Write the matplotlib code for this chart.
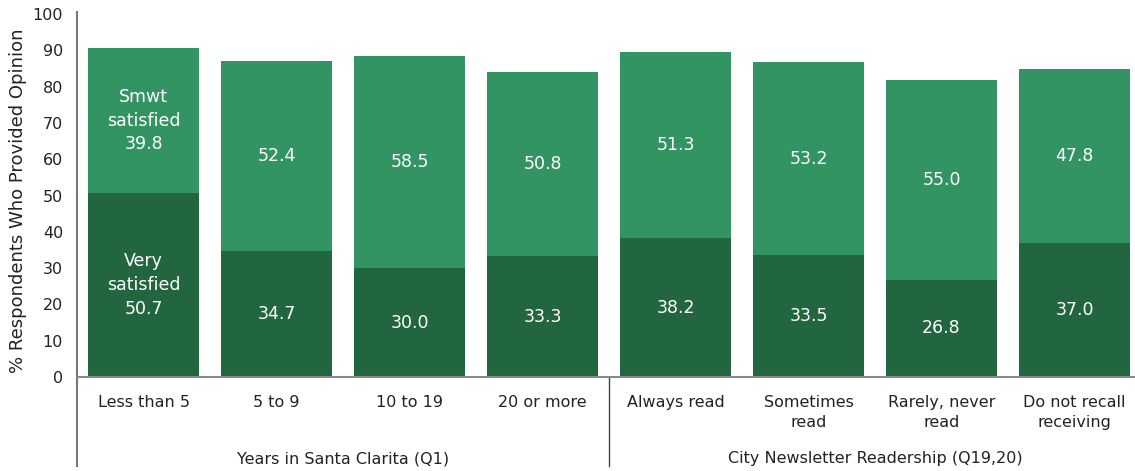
import matplotlib
matplotlib.use("Agg")
import matplotlib.pyplot as plt

categories = ["Less than 5", "5 to 9", "10 to 19", "20 or more",
              "Always read", "Sometimes\nread", "Rarely, never\nread", "Do not recall\nreceiving"]
very_satisfied = [50.7, 34.7, 30.0, 33.3, 38.2, 33.5, 26.8, 37.0]
smwt_satisfied = [39.8, 52.4, 58.5, 50.8, 51.3, 53.2, 55.0, 47.8]
groups = ["Years in Santa Clarita (Q1)", "City Newsletter Readership (Q19,20)"]
group_sizes = [4, 4]
yticks = list(range(0, 101, 10))

dark = "#226640"
light = "#339463"

plt.rcParams['font.family'] = ['DejaVu Sans']
fig = plt.figure(figsize=(11.35, 4.71), dpi=100)
ax = fig.add_axes([77/1135, 94/471, (1141-77)/1135, 363/471])

x = list(range(len(categories)))
w = 0.84
ax.bar(x, very_satisfied, w, color=dark, zorder=2)
ax.bar(x, smwt_satisfied, w, bottom=very_satisfied, color=light, zorder=2)

for i in x:
    v, s = very_satisfied[i], smwt_satisfied[i]
    lv = f"{v:.1f}"
    ls = f"{s:.1f}"
    if i == 0:
        lv = "Very\nsatisfied\n" + lv
        ls = "Smwt\nsatisfied\n" + ls
    ax.text(i, v / 2, lv, ha="center", va="center", color="white", fontsize=12.5, linespacing=1.4)
    ax.text(i, v + s / 2, ls, ha="center", va="center", color="white", fontsize=12.5, linespacing=1.4)

ax.set_xlim(-0.5, len(categories) - 0.5)
ax.set_ylim(0, 100)
ax.set_yticks(yticks)
ax.set_yticklabels([str(t) for t in yticks], fontsize=11.5, color="#222222")
ax.tick_params(axis="y", length=0, pad=10)
ax.tick_params(axis="x", length=0, pad=0)
ax.set_xticks([])
for sp in ["top", "right", "left"]:
    ax.spines[sp].set_visible(False)
ax.spines["bottom"].set_color("#888888")
ax.spines["bottom"].set_linewidth(1.5)

fig.text(18/1135, 1 - 201/471, "% Respondents Who Provided Opinion", rotation=90,
         ha="center", va="center", fontsize=13, color="#222222")

# category labels
trans = ax.get_xaxis_transform()
for i, c in enumerate(categories):
    ax.text(i, -0.05, c, transform=trans, ha="center", va="top", fontsize=11.5,
            color="#222222", linespacing=1.4)

# group labels and dividers
start = 0
ax.plot([-0.5, -0.5], [1.005, -0.245], transform=trans, color="#777777", lw=1.5, clip_on=False)
for g, n in zip(groups, group_sizes):
    center = start + (n - 1) / 2
    ax.text(center, -0.205, g, transform=trans, ha="center", va="top", fontsize=11.5, color="#222222")
    start += n
    if start < len(categories):
        ax.plot([start - 0.5, start - 0.5], [0, -0.245], transform=trans, color="#444444", lw=1.0, clip_on=False)

fig.savefig("out.png", dpi=100)
